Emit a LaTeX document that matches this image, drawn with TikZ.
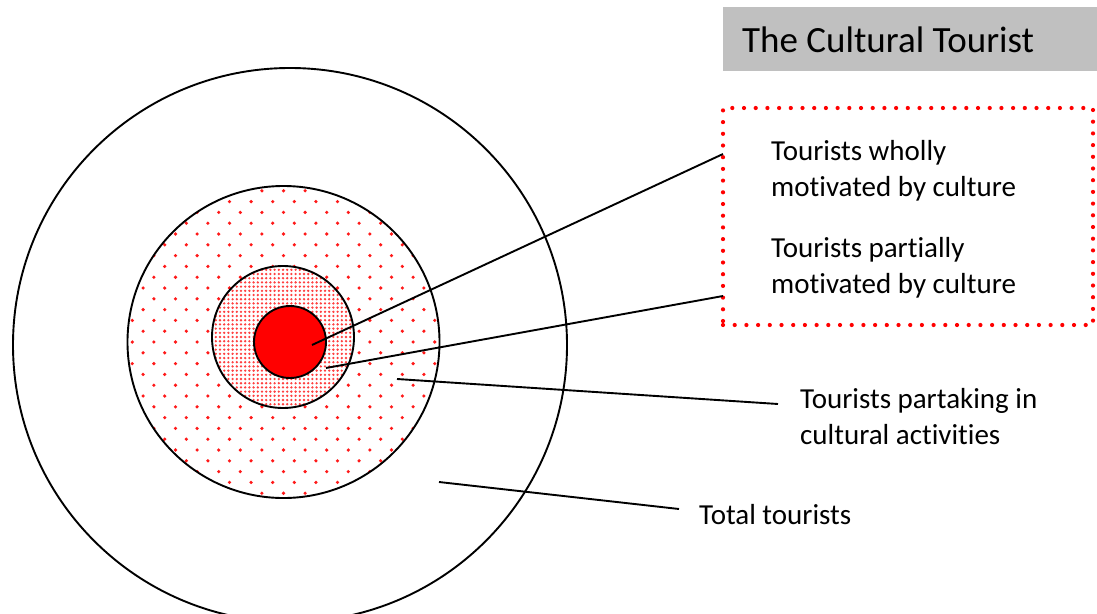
\documentclass[tikz,border=0pt]{standalone}
\usepackage{fontspec}
\setmainfont{Carlito}[Ligatures=NoCommon]
\definecolor{titlegray}{RGB}{192,192,192}
\begin{document}
\begin{tikzpicture}[x=1pt,y=-1pt,
  ring/.style={draw=black,line width=1.9pt,circle,inner sep=0pt,outer sep=0pt},
  conn/.style={draw=black,line width=1.9pt},
  lbl/.style={font=\fontsize{29}{36}\selectfont,inner sep=0pt,anchor=base west,align=left}]
\useasboundingbox (0,0) rectangle (1097,613);
% sparse dots in the middle ring
\begin{scope}
\clip (283.5,342) circle[radius=156pt];
\foreach \i in {-15,...,15}{\foreach \j in {-8,...,8}{
  \fill[red!90] ({283.5+\j*21.6+mod(abs(\i),2)*10.8},{342+\i*10.8}) circle[radius=1.8pt];}}
\end{scope}
% dense dots in the inner ring
\fill[white] (283,337) circle[radius=71pt];
\begin{scope}
\clip (283,337) circle[radius=71pt];
\foreach \i in {-17,...,17}{\foreach \j in {-17,...,17}{
  \fill[red!75] ({283+\j*4.2},{337+\i*4.2}) circle[radius=1.3pt];}}
\end{scope}
% circles
\node[ring,minimum size=554pt] (outer) at (290,345) {};
\node[ring,minimum size=312pt] (middle) at (283.5,342) {};
\node[ring,minimum size=142pt] (inner) at (283,337) {};
\node[ring,fill=red,minimum size=72pt] (core) at (290,342) {};
% title
\node[fill=titlegray,anchor=north west,minimum width=374pt,minimum height=64pt,
  inner sep=0pt,outer sep=0pt] (titlebox) at (723,7) {};
\node[font=\fontsize{37}{44}\selectfont,inner sep=0pt,anchor=base west] (title) at (742,52) {The Cultural Tourist};
% dotted box
\node[draw=red,line width=4.2pt,dash pattern=on 0pt off 11.7pt,line cap=round,
  minimum width=370pt,minimum height=217pt,inner sep=0pt,outer sep=0pt,
  anchor=north west] (box) at (723,108) {};
% labels
\node[lbl] (wholly) at (771,196) {Tourists wholly\\motivated by culture};
\node[lbl] (partial) at (771,293) {Tourists partially\\motivated by culture};
\node[lbl] (partake) at (800,444) {Tourists partaking in\\cultural activities};
\node[lbl] (total) at (699,524) {Total tourists};
% connectors
\coordinate (s1) at (312,345); \coordinate (e1) at (723,154);
\coordinate (s2) at (326,368); \coordinate (e2) at (723,296);
\coordinate (s3) at (397,379); \coordinate (e3) at (778,404);
\coordinate (s4) at (439,482); \coordinate (e4) at (679,509);
\draw[conn] (s1) -- (e1);
\draw[conn] (s2) -- (e2);
\draw[conn] (s3) -- (e3);
\draw[conn] (s4) -- (e4);
\end{tikzpicture}
\end{document}
